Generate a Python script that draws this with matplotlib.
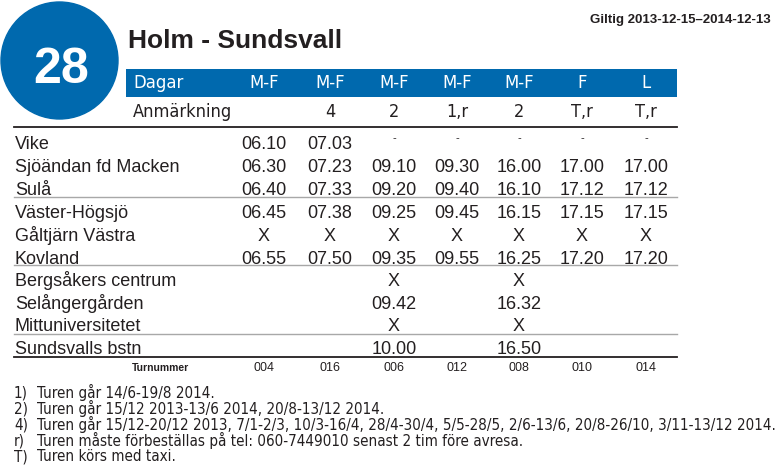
import matplotlib
matplotlib.use("Agg")
import matplotlib.pyplot as plt
from matplotlib.patches import Circle, Rectangle

# ---- timetable data ----
route_number = "28"
route_name = "Holm - Sundsvall"
valid_text = "Giltig 2013-12-15\u20132014-12-13"

days = ["M-F", "M-F", "M-F", "M-F", "M-F", "F", "L"]
remarks = ["", "4", "2", "1,r", "2", "T,r", "T,r"]
stops = ["Vike", "Sjöändan fd Macken", "Sulå", "Väster-Högsjö", "Gåltjärn Västra",
         "Kovland", "Bergsåkers centrum", "Selångergården", "Mittuniversitetet",
         "Sundsvalls bstn"]
trip_004 = ["06.10", "06.30", "06.40", "06.45", "X", "06.55", "", "", "", ""]
trip_016 = ["07.03", "07.23", "07.33", "07.38", "X", "07.50", "", "", "", ""]
trip_006 = ["-", "09.10", "09.20", "09.25", "X", "09.35", "X", "09.42", "X", "10.00"]
trip_012 = ["-", "09.30", "09.40", "09.45", "X", "09.55", "", "", "", ""]
trip_008 = ["-", "16.00", "16.10", "16.15", "X", "16.25", "X", "16.32", "X", "16.50"]
trip_010 = ["-", "17.00", "17.12", "17.15", "X", "17.20", "", "", "", ""]
trip_014 = ["-", "17.00", "17.12", "17.15", "X", "17.20", "", "", "", ""]
trips = [trip_004, trip_016, trip_006, trip_012, trip_008, trip_010, trip_014]
turnummer = ["004", "016", "006", "012", "008", "010", "014"]

note_keys = ["1)", "2)", "4)", "r)", "T)"]
note_texts = [
    "Turen går 14/6-19/8 2014.",
    "Turen går 15/12 2013-13/6 2014, 20/8-13/12 2014.",
    "Turen går 15/12-20/12 2013, 7/1-2/3, 10/3-16/4, 28/4-30/4, 5/5-28/5, 2/6-13/6, 20/8-26/10, 3/11-13/12 2014.",
    "Turen måste förbeställas på tel: 060-7449010 senast 2 tim före avresa.",
    "Turen körs med taxi.",
]

# ---- layout (pixel coordinates, y grows downward) ----
W, H = 783, 466
BLUE = "#0069AE"
INK = "#231f20"
BODY = ["Liberation Sans", "DejaVu Sans"]
COND = dict(family="DejaVu Sans", fontstretch="condensed")

col_x = [264, 330, 394, 457, 519, 582, 646]
row_base = [149, 172, 195, 218, 241, 264, 286, 309, 331, 354]
left, right = 14, 677

fig = plt.figure(figsize=(W / 100, H / 100), dpi=100)
ax = fig.add_axes([0, 0, 1, 1])
ax.set_xlim(0, W)
ax.set_ylim(H, 0)
ax.axis("off")

# route badge
ax.add_patch(Circle((59.5, 60.5), 58.5, color=BLUE, zorder=1))
ax.text(61, 83, route_number, color="white", fontsize=36, fontweight="bold",
        family=BODY, ha="center", va="baseline", zorder=2)

ax.text(128, 48, route_name, color=INK, fontsize=19, fontweight="bold",
        family=BODY, ha="left", va="baseline")
ax.text(771, 23, valid_text, color=INK, fontsize=9.5, fontweight="bold",
        family=BODY, ha="right", va="baseline")

# header bar
ax.add_patch(Rectangle((126, 69), right - 126, 28, color=BLUE, lw=0, zorder=1))
ax.text(133, 88, "Dagar", color="white", fontsize=13.2, ha="left",
        va="baseline", zorder=2, **COND)
for x, d in zip(col_x, days):
    ax.text(x, 88, d, color="white", fontsize=13.2, ha="center",
            va="baseline", zorder=2, **COND)

ax.text(133, 117, "Anmärkning", color=INK, fontsize=13, ha="left",
        va="baseline", **COND)
for x, r in zip(col_x, remarks):
    ax.text(x, 117, r, color=INK, fontsize=13, ha="center", va="baseline", **COND)

# rules
ax.plot([left, right], [127, 127], color=INK, lw=1.3)
for y in [197, 265, 334]:
    ax.plot([left, right], [y, y], color="#a8a8a8", lw=1.0)
ax.plot([left, right], [357, 357], color=INK, lw=1.3)

# stops and times
for y, s in zip(row_base, stops):
    ax.text(15, y, s, color=INK, fontsize=13, family=BODY, ha="left", va="baseline")
for x, trip in zip(col_x, trips):
    for y, t in zip(row_base, trip):
        if t == "-":
            ax.text(x, y - 8, t, color=INK, fontsize=8, family=BODY,
                    ha="center", va="baseline")
        elif t:
            ax.text(x, y, t, color=INK, fontsize=13, family=BODY,
                    ha="center", va="baseline")

ax.text(160, 371, "Turnummer", color=INK, fontsize=7.5, fontweight="bold",
        family=BODY, ha="center", va="baseline")
for x, n in zip(col_x, turnummer):
    ax.text(x, 371, n, color=INK, fontsize=9, family=BODY,
            ha="center", va="baseline")

# footnotes
note_base = [398, 414, 430, 446, 461]
for y, k, t in zip(note_base, note_keys, note_texts):
    ax.text(14, y, k, color=INK, fontsize=10.9, ha="left", va="baseline", **COND)
    ax.text(37, y, t, color=INK, fontsize=10.9, ha="left", va="baseline", **COND)

fig.savefig("out.png", dpi=100, facecolor="white")
